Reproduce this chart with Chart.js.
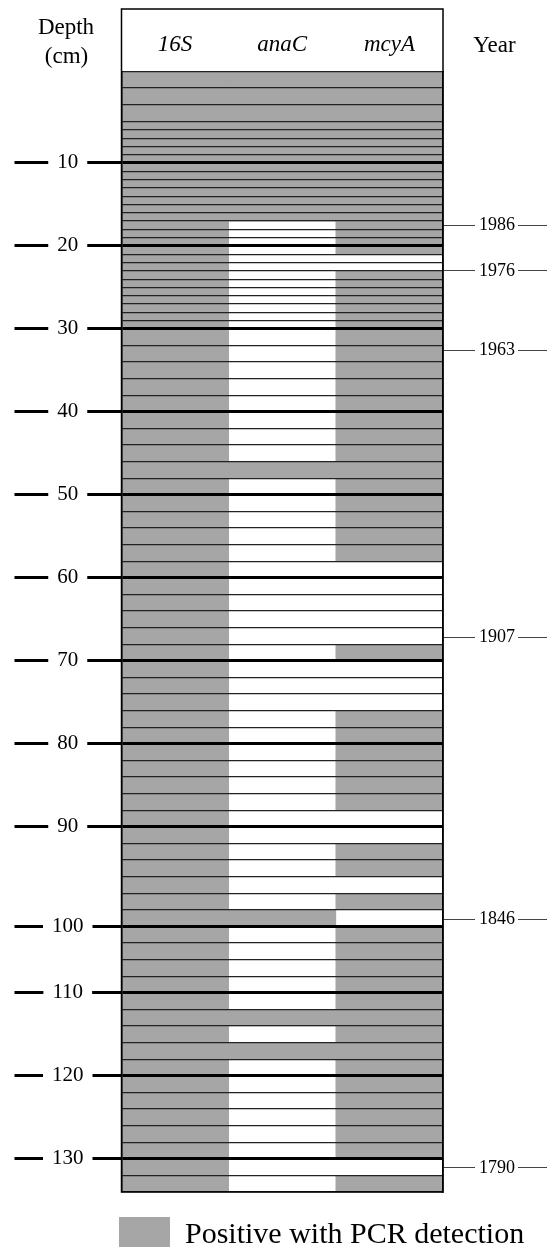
<!DOCTYPE html>
<html>
<head>
<meta charset="utf-8">
<script src="https://cdn.jsdelivr.net/npm/chart.js@4/dist/chart.umd.min.js"></script>
<style>
  html, body { margin: 0; padding: 0; background: #fff; }
  canvas { display: block; }
</style>
</head>
<body>
<canvas id="core" width="547" height="1247"></canvas>
<script>
// edges of the core slices, cm
var depthEdges = [
  0, 1.8, 3.6, 5.5, 6.4, 7.3, 8.2, 9.1, 10,
  11, 12, 13, 14, 15, 16, 17, 18, 19, 20,
  21, 22, 23, 24, 25, 26, 27, 28, 29, 30,
  32, 34, 36, 38, 40, 42, 44, 46, 48, 50,
  52, 54, 56, 58, 60, 62, 64, 66, 68, 70,
  72, 74, 76, 78, 80, 82, 84, 86, 88, 90,
  91.7, 93.3, 95, 96.7, 98.3, 100, 102.5, 105, 107.5, 110,
  112, 114, 116, 118, 120, 122, 124, 126, 128, 130,
  132, 134
]

var genes = ['16S', 'anaC', 'mcyA']

// 1 = positive PCR for that slice, one line per 10 cm of core
var pos16S = [
  1, 1, 1, 1, 1, 1, 1, 1,
  1, 1, 1, 1, 1, 1, 1, 1, 1, 1,
  1, 1, 1, 1, 1, 1, 1, 1, 1, 1,
  1, 1, 1, 1, 1,
  1, 1, 1, 1, 1,
  1, 1, 1, 1, 1,
  1, 1, 1, 1, 1,
  1, 1, 1, 1, 1,
  1, 1, 1, 1, 1,
  1, 1, 1, 1, 1, 1,
  1, 1, 1, 1,
  1, 1, 1, 1, 1,
  1, 1, 1, 1, 1,
  1, 1
]
var posAnaC = [
  1, 1, 1, 1, 1, 1, 1, 1,
  1, 1, 1, 1, 1, 1, 1, 0, 0, 0,
  0, 0, 0, 0, 0, 0, 0, 0, 0, 0,
  0, 0, 0, 0, 0,
  0, 0, 0, 1, 0,
  0, 0, 0, 0, 0,
  0, 0, 0, 0, 0,
  0, 0, 0, 0, 0,
  0, 0, 0, 0, 0,
  0, 0, 0, 0, 0, 1,
  0, 0, 0, 0,
  0, 1, 0, 1, 0,
  0, 0, 0, 0, 0,
  0, 0
]
var posMcyA = [
  1, 1, 1, 1, 1, 1, 1, 1,
  1, 1, 1, 1, 1, 1, 1, 1, 1, 1,
  1, 0, 0, 1, 1, 1, 1, 1, 1, 1,
  1, 1, 1, 1, 1,
  1, 1, 1, 1, 1,
  1, 1, 1, 1, 0,
  0, 0, 0, 0, 1,
  0, 0, 0, 1, 1,
  1, 1, 1, 1, 0,
  0, 1, 1, 0, 1, 0,
  1, 1, 1, 1,
  1, 1, 1, 1, 1,
  1, 1, 1, 1, 1,
  0, 1
]

var depthTicks = [10, 20, 30, 40, 50, 60, 70, 80, 90, 100, 110, 120, 130]

// dated horizons on the right
var yearDepths = [17.5, 23, 32.6, 67.2, 99.3, 131.1]
var yearLabels = ['1986', '1976', '1963', '1907', '1846', '1790']

var grey = '#a6a6a6'
var serif = "'Liberation Serif', 'Times New Roman', serif"

// the depth axis in the figure is schematic: each 10 cm step is not drawn
// the same height, so map depth through these knots
var axisDepthKnots = [0, 10, 20, 30, 40, 50, 60, 70, 80, 90, 100, 110, 120, 130, 134]
var axisDrawKnots  = [0, 11, 21, 31, 41, 51, 61, 71, 81, 91, 103, 111, 121, 131, 135]

function lerpTable(v, xs, ys) {
  var n = xs.length
  if (v <= xs[0]) return ys[0] + (v - xs[0]) * (ys[1] - ys[0]) / (xs[1] - xs[0])
  for (var i = 1; i < n; i++) {
    if (v <= xs[i]) return ys[i - 1] + (v - xs[i - 1]) * (ys[i] - ys[i - 1]) / (xs[i] - xs[i - 1])
  }
  return ys[n - 1] + (v - xs[n - 1]) * (ys[n - 1] - ys[n - 2]) / (xs[n - 1] - xs[n - 2])
}

class SchematicDepthScale extends Chart.LinearScale {
  getPixelForValue(value) {
    var u = lerpTable(value, axisDepthKnots, axisDrawKnots) / axisDrawKnots[axisDrawKnots.length - 1]
    return this.top + u * (this.bottom - this.top)
  }
  getValueForPixel(pixel) {
    var u = (pixel - this.top) / (this.bottom - this.top) * axisDrawKnots[axisDrawKnots.length - 1]
    return lerpTable(u, axisDrawKnots, axisDepthKnots)
  }
  // labels live in the layout padding, outside the (thin) axis box: don't clip them
  _computeLabelArea() {
    return undefined
  }
}
SchematicDepthScale.id = 'schematicDepth'
Chart.register(SchematicDepthScale)

var positives = [pos16S, posAnaC, posMcyA]
var datasets = genes.map(function (gene, g) {
  var pts = []
  positives[g].forEach(function (p, i) {
    if (p) pts.push({ x: gene, y: [depthEdges[i], depthEdges[i + 1]] })
  })
  return {
    label: gene,
    data: pts,
    backgroundColor: grey,
    borderWidth: 0,
    grouped: false,
    barPercentage: 1,
    categoryPercentage: 1
  }
})

function isMajor(v) { return depthTicks.indexOf(v) >= 0 }

// frame round header + column, and the two corner captions
var framePlugin = {
  id: 'frame',
  afterDraw: function (chart) {
    var c = chart.ctx, a = chart.chartArea
    c.save()
    c.strokeStyle = '#000'
    c.lineWidth = 1.5
    c.strokeRect(a.left, 9, a.right - a.left, a.bottom - 9)
    c.fillStyle = '#000'
    c.font = '23px ' + serif
    c.textAlign = 'center'
    c.textBaseline = 'alphabetic'
    c.fillText('Depth', 66, 34)
    c.fillText('(cm)', 66.5, 63)
    c.fillText('Year', 494.5, 52)
    c.restore()
  }
}

new Chart(document.getElementById('core').getContext('2d'), {
  type: 'bar',
  data: { labels: genes, datasets: datasets },
  plugins: [framePlugin],
  options: {
    responsive: false,
    animation: false,
    events: [],
    // left padding keeps the legend under the column; depth labels sit in it
    layout: { padding: { top: 9, left: 119, right: 0, bottom: -16 } },
    scales: {
      x: {
        type: 'category',
        position: 'top',
        grid: { display: false, drawTicks: false },
        border: { display: true, color: '#000', width: 1.5 },
        ticks: {
          color: '#000',
          padding: 13,
          font: { family: serif, size: 23, style: 'italic' }
        },
        afterFit: function (axis) { axis.height = 62.7 }
      },
      y: {
        type: 'schematicDepth',
        position: 'left',
        min: 0,
        max: 134,
        afterBuildTicks: function (axis) {
          axis.ticks = depthEdges.map(function (v) { return { value: v } })
        },
        afterFit: function (axis) { axis.width = 2.5 },
        border: { display: true, color: '#000', width: 1.5, z: 1 },
        grid: {
          z: 1,
          color: function (ctx) { return isMajor(ctx.tick.value) ? '#000' : '#222' },
          lineWidth: function (ctx) { return isMajor(ctx.tick.value) ? 3 : 1.3 },
          tickLength: 107,
          tickWidth: function (ctx) { return isMajor(ctx.tick.value) ? 3 : 0 },
          tickColor: function (ctx) { return isMajor(ctx.tick.value) ? '#000' : 'rgba(0,0,0,0)' }
        },
        ticks: {
          z: 1,
          autoSkip: false,
          crossAlign: 'center',
          padding: -69,
          color: '#000',
          font: { family: serif, size: 21 },
          showLabelBackdrop: function (ctx) { return isMajor(ctx.tick.value) },
          backdropColor: function (ctx) { return isMajor(ctx.tick.value) ? '#fff' : 'rgba(0,0,0,0)' },
          backdropPadding: { left: 9, right: 9, top: 0, bottom: 0 },
          callback: function (value) { return isMajor(value) ? String(value) : '' }
        }
      },
      yYear: {
        type: 'schematicDepth',
        position: 'right',
        min: 0,
        max: 134,
        afterBuildTicks: function (axis) {
          axis.ticks = yearDepths.map(function (v) { return { value: v } })
        },
        afterFit: function (axis) { axis.width = 104 },
        border: { display: true, color: '#000', width: 1.5, z: 1 },
        grid: {
          drawOnChartArea: false,
          tickLength: 104,
          tickWidth: 1.2,
          tickColor: '#444'
        },
        ticks: {
          autoSkip: false,
          crossAlign: 'center',
          padding: -68,
          color: '#000',
          font: { family: serif, size: 18 },
          showLabelBackdrop: true,
          backdropColor: '#fff',
          backdropPadding: { left: 4, right: 3, top: 0, bottom: 0 },
          callback: function (value) { return yearLabels[yearDepths.indexOf(value)] }
        }
      }
    },
    plugins: {
      tooltip: { enabled: false },
      legend: {
        position: 'bottom',
        align: 'start',
        title: { display: true, text: '', font: { size: 25, lineHeight: 1 }, padding: 0 },
        labels: {
          boxWidth: 51,
          boxHeight: 36,
          padding: 0,
          color: '#000',
          font: { family: serif, size: 30 },
          generateLabels: function () {
            return [{
              text: 'Positive with PCR detection',
              fillStyle: grey,
              strokeStyle: grey,
              fontColor: '#000',
              lineWidth: 0,
              hidden: false,
              datasetIndex: 0
            }]
          }
        }
      }
    }
  }
})
</script>
</body>
</html>
